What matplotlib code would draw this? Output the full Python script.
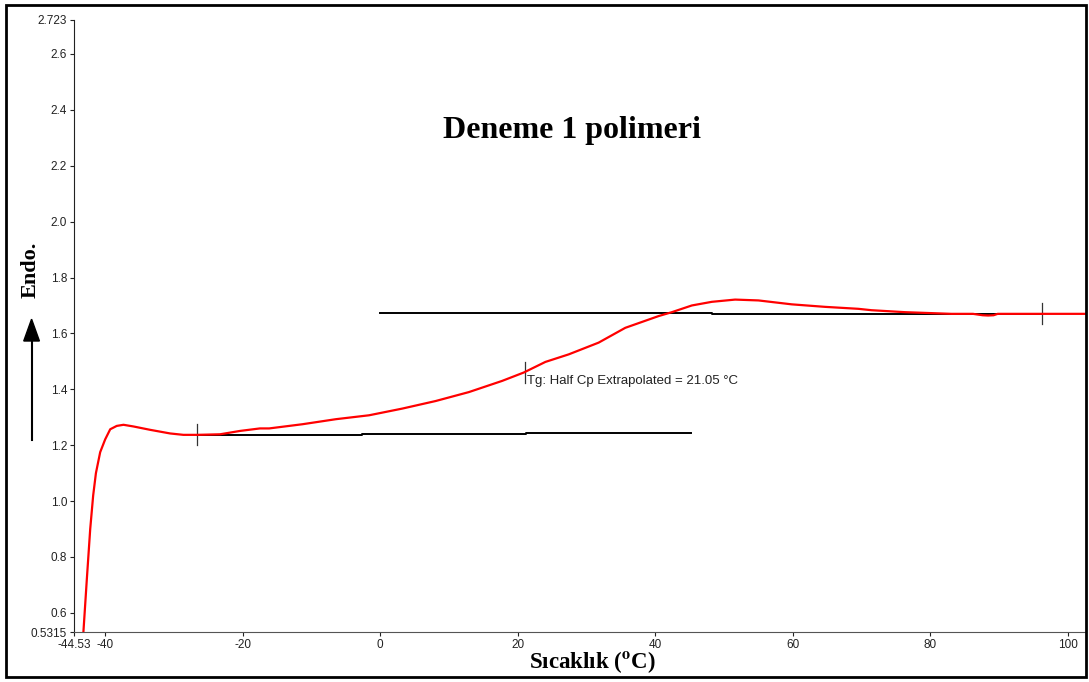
import matplotlib.pyplot as plt
from matplotlib.patches import Rectangle

# DSC curve
temp = [-43.2, -42.67, -42.18, -41.75, -41.35, -40.73, -40.0, -39.27, -38.32, -37.34,
        -35.89, -33.47, -30.56, -28.63, -26.60, -23.30, -20.40, -17.50, -16.15, -11.31,
        -6.46, -1.63, 3.21, 8.05, 12.89, 17.72, 20.87, 24.02, 27.41, 31.76,
        35.64, 40.48, 42.41, 45.32, 48.22, 51.61, 55.0, 59.84, 64.69, 69.52,
        71.45, 76.30, 83.06, 86.2, 87.6, 88.4, 89.2, 89.8, 96.2, 102.6]
heatflow = [0.52, 0.721, 0.90, 1.02, 1.10, 1.175, 1.221, 1.257, 1.269, 1.273,
            1.267, 1.255, 1.242, 1.237, 1.237, 1.239, 1.251, 1.260, 1.260, 1.275,
            1.293, 1.307, 1.331, 1.358, 1.390, 1.430, 1.460, 1.498, 1.525, 1.567,
            1.620, 1.662, 1.676, 1.700, 1.713, 1.721, 1.718, 1.704, 1.695, 1.688,
            1.683, 1.676, 1.670, 1.670, 1.665, 1.664, 1.665, 1.670, 1.670, 1.670]

# baselines and markers
low_base_x = [-26.6, -2.6, -2.6, 21.2, 21.2, 45.2]
low_base_y = [1.2357, 1.2357, 1.239, 1.239, 1.243, 1.243]
high_base_x = [0.0, 48.2, 48.2, 96.2]
high_base_y = [1.674, 1.674, 1.670, 1.670]
marker_x = [-26.6, 21.05, 96.2]
marker_y = [1.237, 1.46, 1.67]

xticks = [-44.53, -40, -20, 0, 20, 40, 60, 80, 100]
xlabels = ["-44.53", "-40", "-20", "0", "20", "40", "60", "80", "100"]
yticks = [0.5315, 0.6, 0.8, 1.0, 1.2, 1.4, 1.6, 1.8, 2.0, 2.2, 2.4, 2.6, 2.723]
ylabels = ["0.5315", "0.6", "0.8", "1.0", "1.2", "1.4", "1.6", "1.8", "2.0",
           "2.2", "2.4", "2.6", "2.723"]

plt.rcParams['font.family'] = ['Liberation Sans', 'DejaVu Sans']
plt.rcParams['mathtext.fontset'] = 'stix'

fig = plt.figure(figsize=(10.89, 6.82), dpi=100)
ax = fig.add_axes([0.068, 0.0733, 0.929, 0.898])

ax.plot(low_base_x, low_base_y, color='black', lw=1.4)
ax.plot(high_base_x, high_base_y, color='black', lw=1.4)
for mx, my in zip(marker_x, marker_y):
    ax.plot([mx, mx], [my - 0.038, my + 0.038], color='#333333', lw=0.9)
ax.plot(temp, heatflow, color='red', lw=1.6)

ax.set_xlim(-44.53, 102.6)
ax.set_ylim(0.5315, 2.723)
ax.set_xticks(xticks)
ax.set_xticklabels(xlabels)
ax.set_yticks(yticks)
ax.set_yticklabels(ylabels)
ax.tick_params(labelsize=8.5, length=3, width=0.8, colors='#222222', pad=2)
ax.spines['top'].set_visible(False)
ax.spines['right'].set_visible(False)
ax.spines['left'].set_color('#222222')
ax.spines['bottom'].set_color('#555555')

ax.text(21.3, 1.428, "Tg: Half Cp Extrapolated = 21.05 °C", fontsize=9.5,
        color='#222222', va='center', ha='left')
fig.text(0.525, 0.809, "Deneme 1 polimeri", family='Liberation Serif',
         fontweight='bold', fontsize=23, ha='center', va='center')

fig.text(0.544, 0.029, r"Sıcaklık ($\mathbf{^{o}}$C)", family='Liberation Serif',
         fontweight='bold', fontsize=16.5, ha='center', va='center')
fig.text(0.028, 0.604, "Endo.", family='Liberation Serif', fontweight='bold',
         fontsize=16, rotation=90, ha='center', va='center')
fig.add_artist(plt.Line2D([0.029, 0.029], [0.355, 0.5], color='black', lw=1.5))
fig.add_artist(plt.Polygon([[0.0218, 0.5], [0.0362, 0.5], [0.029, 0.532]],
                           closed=True, color='black', transform=fig.transFigure))

fig.add_artist(Rectangle((0.0055, 0.007), 0.992, 0.986, transform=fig.transFigure,
                         fill=False, edgecolor='black', lw=2))

fig.savefig("out.png", dpi=100)
